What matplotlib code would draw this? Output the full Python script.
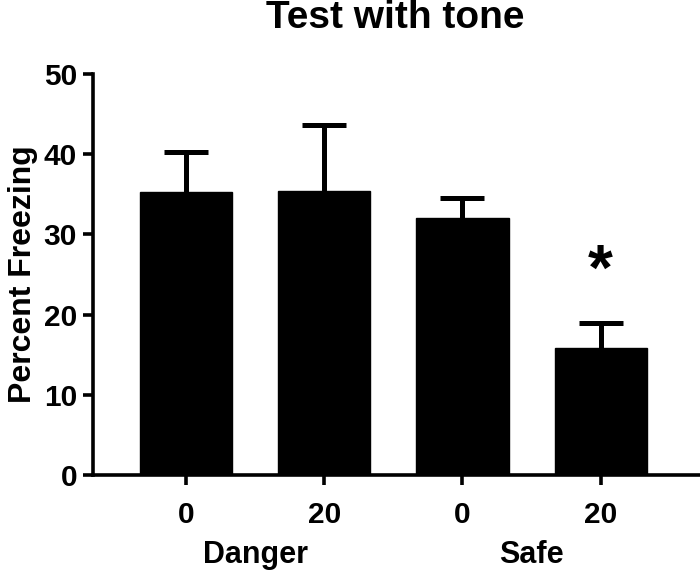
import matplotlib
matplotlib.use('Agg')
import matplotlib.pyplot as plt
import matplotlib.transforms as mtransforms
import numpy as np

plt.rcParams['font.family'] = ['Liberation Sans', 'DejaVu Sans']
plt.rcParams['font.weight'] = 'bold'

tick_labels = ["0", "20", "0", "20"]
groups = ["Danger", "Safe"]
means = [35.3, 35.45, 32.1, 15.9]
sem = [5.0, 8.15, 2.5, 3.0]
star_at = [25.2]

fig = plt.figure(figsize=(7, 5.79), dpi=100)
ax = fig.add_axes([0.133, 0.1796, 0.867, 0.6924])

x = np.arange(len(means))
ax.bar(x, means, width=0.667, color='black', edgecolor='black', zorder=2)
# only the upper half of the error bar is drawn
_, caps, _ = ax.errorbar(x, means, yerr=[np.zeros(len(sem)), sem], fmt='none',
                         ecolor='black', elinewidth=3.6, capsize=15.8,
                         capthick=3.6, zorder=1)
caps[0].set_visible(False)  # lower cap sits on the bar top

ax.text(3, star_at[0], "*", ha='center', va='center', fontsize=46, fontweight='bold')

ax.set_xlim(-0.675, 3.72)
ax.set_ylim(0, 50)
ax.set_yticks([0, 10, 20, 30, 40, 50])
ax.set_xticks(x)
ax.set_xticklabels(tick_labels)
for s in ['top', 'right']:
    ax.spines[s].set_visible(False)
for s in ['left', 'bottom']:
    ax.spines[s].set_linewidth(2.6)
ax.tick_params(axis='both', width=2.6, length=7.5, labelsize=21.5, pad=4)
ax.tick_params(axis='x', pad=11)

ax.set_ylabel("Percent Freezing", fontsize=23, fontweight='bold', labelpad=4)

trans = mtransforms.blended_transform_factory(ax.transData, fig.transFigure)
ax.text(0.5, 1 - 555 / 579, groups[0], transform=trans, ha='center', va='center',
        fontsize=22, fontweight='bold')
ax.text(2.5, 1 - 555 / 579, groups[1], transform=trans, ha='center', va='center',
        fontsize=22, fontweight='bold')

fig.text(395 / 700, 1 - 18 / 579, "Test with tone", ha='center', va='center',
         fontsize=28, fontweight='bold')

fig.savefig('out.png', dpi=100)
